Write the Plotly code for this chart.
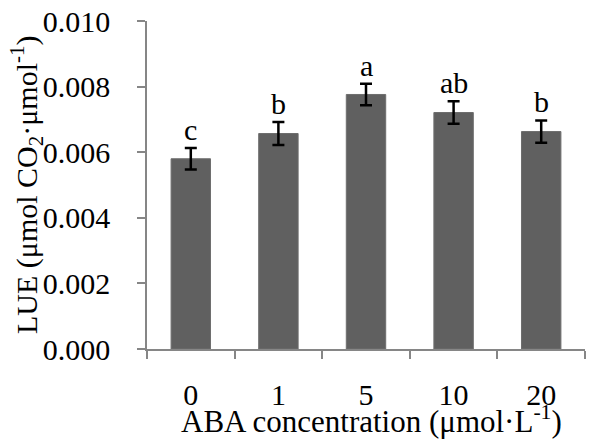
import plotly.graph_objects as go

categories = ["0", "1", "5", "10", "20"]
lue_values = [0.00580, 0.00657, 0.00776, 0.00721, 0.00663]
lue_errors = [0.00033, 0.00035, 0.00033, 0.00034, 0.00034]
sig_letters = ["c", "b", "a", "ab", "b"]

FONT = "Liberation Serif"
AXIS_COLOR = "#868686"

fig = go.Figure()
fig.add_trace(go.Bar(
    x=categories,
    y=lue_values,
    width=0.45,
    marker=dict(color="#606060", line=dict(color="#6e6e6e", width=1)),
    error_y=dict(type="data", array=lue_errors, visible=True,
                 color="black", thickness=2.5, width=6),
    showlegend=False,
))

for i, (v, e, t) in enumerate(zip(lue_values, lue_errors, sig_letters)):
    fig.add_annotation(x=i, y=v + e, text=t, showarrow=False,
                       yanchor="bottom", yshift=0,
                       font=dict(family=FONT, size=30, color="black"))

fig.add_annotation(
    xref="paper", yref="paper", x=0, y=0.5, xshift=-121, xanchor="center",
    yanchor="middle", textangle=-90, showarrow=False,
    text="LUE (μmol CO<sub>2</sub>·μmol<sup>-1</sup>)",
    font=dict(family=FONT, size=30, color="black"),
)

fig.add_annotation(
    xref="paper", yref="paper", x=0.5, y=0, yshift=-49, xshift=5,
    xanchor="center", yanchor="top", showarrow=False,
    text="ABA concentration (μmol·L<sup>-1</sup>)",
    font=dict(family=FONT, size=31, color="black"),
)

fig.update_layout(
    width=590, height=440,
    margin=dict(l=147, r=5, t=21, b=91),
    paper_bgcolor="white", plot_bgcolor="white",
    font=dict(family=FONT, size=28, color="black"),
    xaxis=dict(
        type="category", range=[-0.5, 4.5],
        showline=True, linecolor=AXIS_COLOR, linewidth=1.5,
        ticks="outside", tickson="boundaries", ticklen=8,
        tickcolor=AXIS_COLOR, tickwidth=1.5,
        ticklabelstandoff=18, tickangle=0,
        tickfont=dict(family=FONT, size=30, color="black"),
        showgrid=False,
    ),
    yaxis=dict(
        range=[0, 0.010], dtick=0.002, tickformat=".3f",
        showline=True, linecolor=AXIS_COLOR, linewidth=1.5,
        ticks="outside", ticklen=8, tickcolor=AXIS_COLOR, tickwidth=1.5,
        ticklabelstandoff=21,
        tickfont=dict(family=FONT, size=30, color="black"),
        showgrid=False, zeroline=False,
    ),
)

fig.write_html("out.html")
